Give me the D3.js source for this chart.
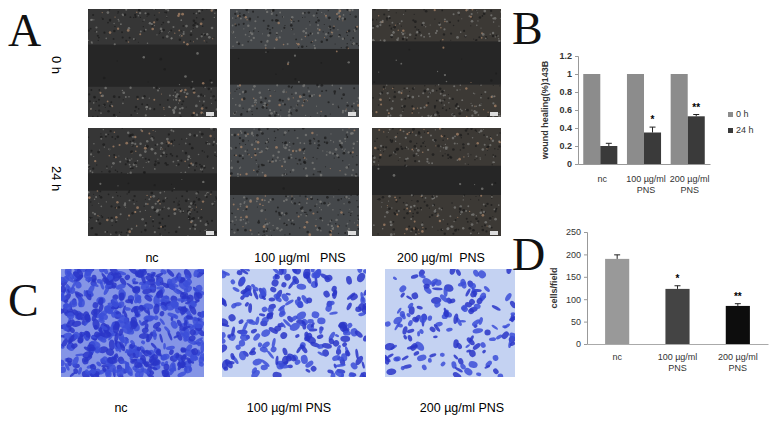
<!DOCTYPE html>
<html>
<head>
<meta charset="utf-8">
<title>PNS wound healing and transwell</title>
<style>
  body { margin: 0; background: #fff; }
  svg text { font-family: "Liberation Sans", Arial, sans-serif; }
  .letter { font-family: "Liberation Serif", "DejaVu Serif", serif; font-size: 46px; fill: #111; }
</style>
</head>
<body>
<svg width="771" height="422"></svg>
<script src="https://cdn.jsdelivr.net/npm/d3@7"></script>
<script>
// panel B
const bGroups = ["nc", "100 µg/ml|PNS", "200 µg/ml|PNS"]
const bSeries = ["0 h", "24 h"]
const b0h = [1, 1, 1]
const b24h = [0.2, 0.35, 0.53]
const b24hErr = [0.03, 0.06, 0.02]
const bStars = ["", "*", "**"]
const bTicks = [0, 0.2, 0.4, 0.6, 0.8, 1, 1.2]

// panel D
const dGroups = ["nc", "100 µg/ml|PNS", "200 µg/ml|PNS"]
const dValues = [190, 123, 85]
const dErr = [9, 7, 5]
const dStars = ["", "*", "**"]
const dTicks = [0, 50, 100, 150, 200, 250]

const imgCols = ["nc", "100 µg/ml   PNS", "200 µg/ml  PNS"]
const bottomLabels = ["nc", "100 µg/ml PNS", "200 µg/ml PNS"]

const svg = d3.select("svg")
const defs = svg.append("defs")

// small seeded generator, only for the photo-like textures
let seed = 7
const rnd = () => { seed = (seed * 16807) % 2147483647; return seed / 2147483647 }

// ---- A: wound images ----
const aX = [88, 230, 372], aY = [9, 128], aW = 129, aH = 108
const gapBand = [[[0.33, 0.72], [0.37, 0.70], [0.30, 0.70]], [[0.42, 0.58], [0.45, 0.62], [0.35, 0.62]]]
const aTone = ["#363636", "#45484b", "#3c3935"]
defs.append("clipPath").attr("id", "clipA").append("rect").attr("width", aW).attr("height", aH)
aY.forEach((y, r) => aX.forEach((x, c) => {
    const g = svg.append("g").attr("transform", `translate(${x},${y})`).attr("clip-path", "url(#clipA)")
    g.append("rect").attr("width", aW).attr("height", aH).attr("fill", aTone[c])
    const [t, b] = gapBand[r][c]
    g.append("rect").attr("y", aH * t).attr("width", aW).attr("height", aH * (b - t)).attr("fill", "#262626")
    for (let i = 0; i < 520; i++) {
        const py = rnd() * aH, px = rnd() * aW
        const inGap = py > aH * t && py < aH * b
        if (inGap && rnd() > 0.06) continue
        const k = rnd()
        g.append("circle").attr("cx", px).attr("cy", py).attr("r", 0.5 + rnd() * 0.9)
            .attr("fill", k > 0.88 ? "#a88468" : k > 0.45 ? "#7c7c7a" : "#1c1c1c")
            .attr("opacity", 0.75)
    }
    g.append("rect").attr("x", aW - 11).attr("y", aH - 5).attr("width", 8).attr("height", 4).attr("fill", "#ddd")
}))

svg.append("text").attr("class", "letter").attr("x", 8).attr("y", 46).text("A")
svg.append("text").attr("transform", "translate(52,56) rotate(90)").attr("font-size", 13).text("0 h")
svg.append("text").attr("transform", "translate(52,166) rotate(90)").attr("font-size", 13).text("24 h")

// ---- C: transwell images ----
const cX = [61, 222, 385], cY = 269, cH = 108
const cW = [143, 144, 130]
const cDensity = [560, 240, 150]
cX.forEach((x, c) => {
    defs.append("clipPath").attr("id", "clipC" + c).append("rect").attr("width", cW[c]).attr("height", cH)
    const g = svg.append("g").attr("transform", `translate(${x},${cY})`).attr("clip-path", `url(#clipC${c})`)
    g.append("rect").attr("width", cW[c]).attr("height", cH).attr("fill", c === 0 ? "#8595e6" : "#c4d2f2")
    for (let i = 0; i < cDensity[c]; i++) {
        const px = rnd() * cW[c], py = rnd() * cH
        g.append("ellipse").attr("cx", px).attr("cy", py)
            .attr("rx", 2 + rnd() * 3.5).attr("ry", 1.2 + rnd() * 2.5)
            .attr("transform", `rotate(${rnd() * 180},${px},${py})`)
            .attr("fill", rnd() > 0.5 ? "#2a36c8" : "#3c4fd8").attr("opacity", 0.85)
    }
})
svg.append("text").attr("class", "letter").attr("x", 8).attr("y", 316).text("C")
const topLabX = [152, 300, 441]
svg.append("g").attr("font-size", 12.5).attr("text-anchor", "middle")
    .selectAll("text").data(imgCols).join("text")
    .attr("x", (d, i) => topLabX[i]).attr("y", 262).style("white-space", "pre").text(d => d)
const botLabX = [121, 289, 462]
svg.append("g").attr("font-size", 12.5).attr("text-anchor", "middle")
    .selectAll("text").data(bottomLabels).join("text")
    .attr("x", (d, i) => botLabX[i]).attr("y", 412).text(d => d)

// ---- B chart ----
svg.append("text").attr("class", "letter").attr("x", 512).attr("y", 44).text("B")
const bx = d3.scaleBand().domain(bGroups).range([578, 710]).paddingInner(0.22).paddingOuter(0.12)
const bsub = d3.scaleBand().domain(bSeries).range([0, bx.bandwidth()])
const by = d3.scaleLinear().domain([0, 1.2]).range([164, 56])
const bColors = ["#8c8c8c", "#3a3a3a"]

svg.append("g").attr("transform", "translate(578,0)")
    .call(d3.axisLeft(by).tickValues(bTicks).tickFormat(d3.format("~g")).tickSize(3))
    .call(g => g.selectAll("text").attr("font-size", 9).attr("font-weight", "bold").attr("fill", "#333"))
    .call(g => g.selectAll("path,line").attr("stroke", "#999"))
svg.append("g").attr("transform", "translate(0,164)")
    .call(d3.axisBottom(bx).tickFormat("").tickSize(0))
    .call(g => g.select("path").attr("stroke", "#999"))

const bData = bGroups.map((g, i) => ({g, i, vals: [b0h[i], b24h[i]]}))
const bg = svg.append("g").selectAll("g").data(bData).join("g")
    .attr("transform", d => `translate(${bx(d.g)},0)`)
bg.selectAll("rect").data(d => d.vals.map((v, j) => ({v, s: bSeries[j]}))).join("rect")
    .attr("x", d => bsub(d.s)).attr("width", bsub.bandwidth())
    .attr("y", d => by(d.v)).attr("height", d => by(0) - by(d.v))
    .attr("fill", (d, j) => bColors[j])
bg.append("path")
    .attr("d", d => {
        const cx = bsub("24 h") + bsub.bandwidth() / 2, y0 = by(b24h[d.i]), y1 = by(b24h[d.i] + b24hErr[d.i])
        return `M${cx},${y0}V${y1}M${cx - 3},${y1}H${cx + 3}`
    }).attr("stroke", "#222").attr("fill", "none")
bg.append("text").attr("x", bsub("24 h") + bsub.bandwidth() / 2)
    .attr("y", d => by(b24h[d.i] + b24hErr[d.i]) - 4).attr("text-anchor", "middle")
    .attr("font-size", 10).attr("font-weight", "bold").text(d => bStars[d.i])
svg.append("g").attr("font-size", 9).attr("text-anchor", "middle").attr("fill", "#333")
    .selectAll("text").data(bGroups).join("text")
    .attr("x", d => bx(d) + bx.bandwidth() / 2 + 2).attr("y", 182)
    .selectAll("tspan").data(d => d.split("|")).join("tspan")
    .attr("x", function () { return this.parentNode.getAttribute("x") })
    .attr("dy", (d, i) => i ? 11 : 0).text(d => d)
svg.append("text").attr("transform", "translate(548,110) rotate(-90)").attr("text-anchor", "middle")
    .attr("font-size", 9).attr("font-weight", "bold").attr("fill", "#333").text("wound healing(%)143B")
const leg = svg.append("g").selectAll("g").data(bSeries).join("g")
    .attr("transform", (d, i) => `translate(728,${117 + i * 16})`)
leg.append("rect").attr("y", -5).attr("width", 5).attr("height", 5).attr("fill", (d, i) => bColors[i])
leg.append("text").attr("x", 8).attr("font-size", 9).attr("fill", "#333").text(d => d)

// ---- D chart ----
svg.append("text").attr("class", "letter").attr("x", 512).attr("y", 270).text("D")
const dx = d3.scaleBand().domain(dGroups).range([587, 768]).paddingInner(0.6).paddingOuter(0.3)
const dy = d3.scaleLinear().domain([0, 250]).range([344, 232])
const dColors = ["#999999", "#444444", "#0d0d0d"]
svg.append("g").attr("transform", "translate(587,0)")
    .call(d3.axisLeft(dy).tickValues(dTicks).tickSize(3))
    .call(g => g.selectAll("text").attr("font-size", 9).attr("fill", "#333"))
    .call(g => g.selectAll("path,line").attr("stroke", "#999"))
svg.append("g").attr("transform", "translate(0,344)")
    .call(d3.axisBottom(dx).tickFormat("").tickSize(0))
    .call(g => g.select("path").attr("stroke", "#aaa"))
svg.append("g").selectAll("rect").data(dValues).join("rect")
    .attr("x", (d, i) => dx(dGroups[i])).attr("width", dx.bandwidth())
    .attr("y", d => dy(d)).attr("height", d => dy(0) - dy(d))
    .attr("fill", (d, i) => dColors[i])
svg.append("g").selectAll("path").data(dValues).join("path")
    .attr("d", (d, i) => {
        const cx = dx(dGroups[i]) + dx.bandwidth() / 2, y1 = dy(d + dErr[i])
        return `M${cx},${dy(d)}V${y1}M${cx - 3},${y1}H${cx + 3}`
    }).attr("stroke", "#222").attr("fill", "none")
svg.append("g").attr("font-size", 10).attr("font-weight", "bold").attr("text-anchor", "middle")
    .selectAll("text").data(dValues).join("text")
    .attr("x", (d, i) => dx(dGroups[i]) + dx.bandwidth() / 2)
    .attr("y", (d, i) => dy(d + dErr[i]) - 4).text((d, i) => dStars[i])
svg.append("g").attr("font-size", 9).attr("text-anchor", "middle").attr("fill", "#333")
    .selectAll("text").data(dGroups).join("text")
    .attr("x", d => dx(d) + dx.bandwidth() / 2).attr("y", 360)
    .selectAll("tspan").data(d => d.split("|")).join("tspan")
    .attr("x", function () { return this.parentNode.getAttribute("x") })
    .attr("dy", (d, i) => i ? 11 : 0).text(d => d)
svg.append("text").attr("transform", "translate(557,288) rotate(-90)").attr("text-anchor", "middle")
    .attr("font-size", 9).attr("font-weight", "bold").attr("fill", "#333").text("cells/field")
</script>
</body>
</html>
